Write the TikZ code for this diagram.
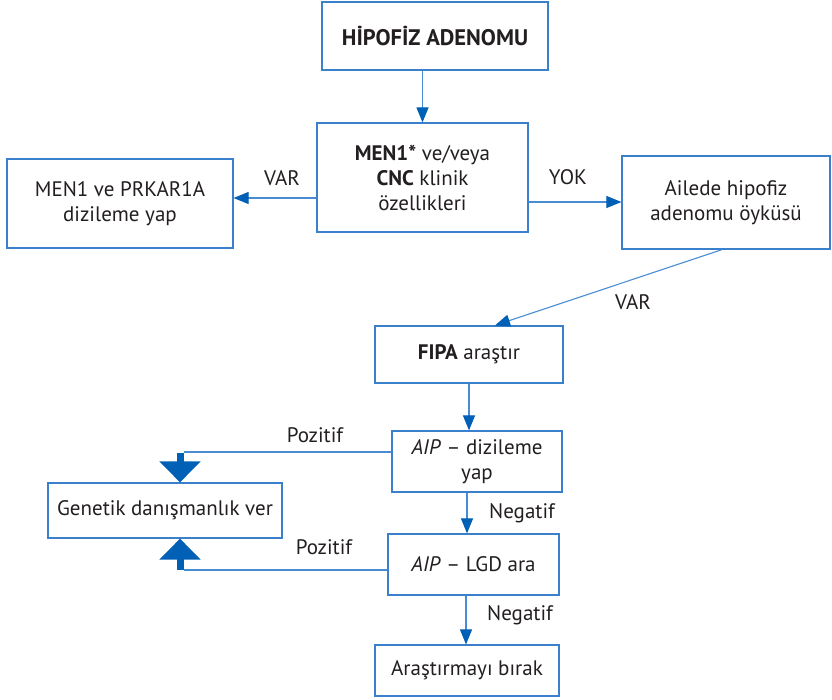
\documentclass[tikz,border=0pt]{standalone}
\usepackage{fontspec}
\setmainfont{PT Sans}
\usetikzlibrary{arrows.meta}
\definecolor{boxblue}{RGB}{58,128,204}
\definecolor{lineblue}{RGB}{72,140,212}
\definecolor{headblue}{RGB}{0,96,182}
\definecolor{ink}{RGB}{35,31,32}
\tikzset{
  stepbox/.style={draw=boxblue, line width=1.2pt, fill=white, text=ink,
    align=center, inner sep=0pt, font=\fontsize{21}{25}\selectfont},
  arr/.style={draw=lineblue, line width=1.1pt,
    -{Triangle[length=15pt 0, width=12pt 0, color=headblue]}},
  plain/.style={draw=lineblue, line width=1.1pt},
  bigarr/.style={draw=headblue, line width=7pt,
    -{Triangle[length=21pt 0, width=40pt 0]}},
  lbl/.style={text=ink, font=\fontsize{21}{25}\selectfont, inner sep=0pt}
}
\begin{document}
\begin{tikzpicture}[x=1pt,y=-1pt]
\useasboundingbox (0,0) rectangle (832,699);

% boxes
\node[stepbox, minimum width=226pt, minimum height=68pt, font=\fontsize{22.5}{25}\selectfont] (top) at (435,36) {\textbf{HİPOFİZ ADENOMU}};
\node[stepbox, minimum width=211pt, minimum height=109pt] (men) at (422.5,177.5) {\textbf{MEN1*} ve/veya\\\textbf{CNC} klinik\\özellikleri};
\node[stepbox, minimum width=226pt, minimum height=89pt] (seq) at (120,203.5) {MEN1 ve PRKAR1A\\dizileme yap};
\node[stepbox, minimum width=208pt, minimum height=93pt] (fam) at (726,202.5) {Ailede hipofiz\\adenomu öyküsü};
\node[stepbox, minimum width=188pt, minimum height=57pt] (fipa) at (469,354.5) {\textbf{FIPA} araştır};
\node[stepbox, minimum width=170pt, minimum height=61pt] (aip) at (477,461.5) {\textit{AIP} – dizileme\\yap};
\node[stepbox, minimum width=171pt, minimum height=61pt] (lgd) at (473.5,564.5) {\textit{AIP} – LGD ara};
\node[stepbox, minimum width=184pt, minimum height=51pt] (stop) at (467,670.5) {Araştırmayı bırak};
\node[stepbox, minimum width=234pt, minimum height=55pt] (gen) at (165,510.5) {Genetik danışmanlık ver};

% connectors
\draw[arr] (men.north |- top.south) -- (men.north);
\draw[arr] (men.west |- 0,198) -- (seq.east |- 0,198);
\draw[arr] (men.east |- 0,202) -- (fam.west |- 0,202);
\draw[arr] ([xshift=-4pt]fam.south) -- ([xshift=26pt]fipa.north);
\draw[arr] (fipa.south) -- (fipa.south |- aip.north);
\draw[arr] (aip.south -| 467,0) -- (lgd.north -| 467,0);
\draw[arr] (lgd.south -| 466,0) -- (stop.north -| 466,0);

% positive results to counselling
\coordinate (p1) at (180,452);
\coordinate (p2) at (180,570);
\draw[plain] (aip.west |- p1) -- ([xshift=4pt]p1);
\draw[plain] (lgd.west |- p2) -- ([xshift=4pt]p2);
\draw[bigarr] ([yshift=-0.5pt]p1) -- (gen.north -| p1);
\draw[bigarr] ([yshift=0.5pt]p2) -- (gen.south -| p2);

% labels
\node[lbl] (l1) at (282,178) {VAR};
\node[lbl] (l2) at (568,177) {YOK};
\node[lbl] (l3) at (633,302) {VAR};
\node[lbl] (l4) at (315,435) {Pozitif};
\node[lbl] (l5) at (324,547) {Pozitif};
\node[lbl] (l6) at (522,513) {Negatif};
\node[lbl] (l7) at (520,615) {Negatif};
\end{tikzpicture}
\end{document}
